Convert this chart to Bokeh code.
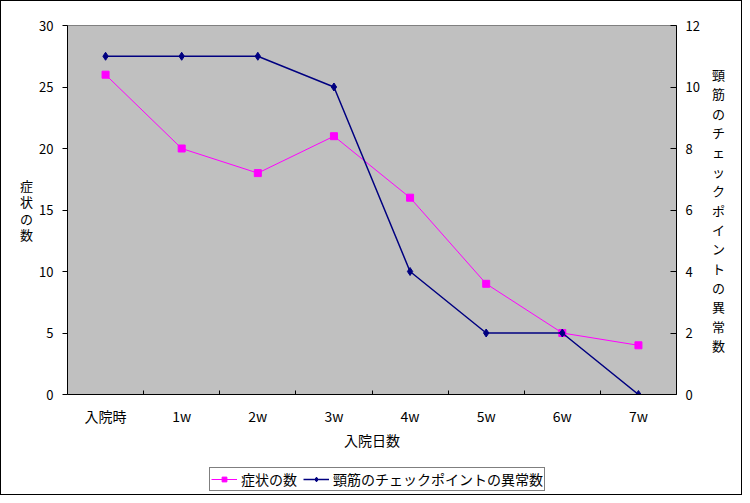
from bokeh.plotting import figure
from bokeh.models import (Range1d, LinearAxis, FixedTicker, Legend, LegendItem)
from bokeh.layouts import column
from bokeh.embed import file_html
from bokeh.resources import INLINE

categories = ["入院時", "1w", "2w", "3w", "4w", "5w", "6w", "7w"]
symptoms = [26, 20, 18, 21, 16, 9, 5, 4]
neck_abn = [11, 11, 11, 10, 4, 2, 2, 0]
left_ticks = [0, 5, 10, 15, 20, 25, 30]
right_ticks = [0, 2, 4, 6, 8, 10, 12]
series_names = ["症状の数", "頸筋のチェックポイントの異常数"]

FONT = "Noto Sans CJK JP"
MAGENTA = "#FF00FF"
NAVY = "#000080"
xs = [i + 0.5 for i in range(len(categories))]

p = figure(width=740, height=455, output_backend="svg", toolbar_location=None,
           x_range=Range1d(0, len(categories)), y_range=Range1d(0, 30),
           min_border_left=66, min_border_right=65, min_border_top=24,
           min_border_bottom=62)
p.extra_y_ranges = {"right": Range1d(0, 12)}
p.background_fill_color = "#C0C0C0"
p.border_fill_color = "white"
p.outline_line_color = "#808080"
p.outline_line_width = 1
p.grid.visible = False

# x axis
xa = p.xaxis[0]
xa.ticker = FixedTicker(ticks=xs, minor_ticks=list(range(1, len(categories))))
xa.major_label_overrides = {x: c for x, c in zip(xs, categories)}
xa.major_tick_line_color = None
xa.minor_tick_in = 4
xa.minor_tick_out = 0
xa.minor_tick_line_color = "black"
xa.axis_line_color = "black"
xa.major_label_standoff = 5
xa.major_label_text_font = FONT
xa.major_label_text_font_size = "14px"
xa.major_label_text_color = "black"
xa.axis_label = "入院日数"
xa.axis_label_text_font = FONT
xa.axis_label_text_font_size = "14px"
xa.axis_label_text_font_style = "normal"
xa.axis_label_standoff = 1
xa.axis_label_text_color = "black"

# left axis
ya = p.yaxis[0]
ya.ticker = FixedTicker(ticks=left_ticks)
ya.minor_tick_line_color = None
ya.major_tick_in = 0
ya.major_tick_out = 5
ya.major_label_standoff = 9
ya.major_label_text_font = FONT
ya.major_label_text_font_size = "13px"
ya.major_label_text_color = "black"
ya.axis_label = "\n".join(series_names[0])
ya.axis_label_orientation = "horizontal"
ya.axis_label_text_font = FONT
ya.axis_label_text_font_size = "13px"
ya.axis_label_text_font_style = "normal"
ya.axis_label_text_line_height = 0.86
ya.axis_label_standoff = 3
ya.axis_label_text_color = "black"

# right axis
ra = LinearAxis(y_range_name="right", ticker=FixedTicker(ticks=right_ticks))
ra.minor_tick_line_color = None
ra.major_tick_in = 6
ra.major_tick_out = 0
ra.major_label_standoff = 9
ra.major_label_text_font = FONT
ra.major_label_text_font_size = "13px"
ra.major_label_text_color = "black"
ra.axis_label = "\n".join(series_names[1])
ra.axis_label_orientation = "horizontal"
ra.axis_label_text_font = FONT
ra.axis_label_text_font_size = "13px"
ra.axis_label_text_font_style = "normal"
ra.axis_label_text_line_height = 1.02
ra.axis_label_standoff = 9
ra.axis_label_text_color = "black"
p.add_layout(ra, "right")

p.line(xs, symptoms, line_color=MAGENTA, line_width=1)
p.scatter(xs, symptoms, marker="square", size=7, fill_color=MAGENTA,
          line_color=MAGENTA)
p.line(xs, neck_abn, y_range_name="right", line_color=NAVY, line_width=1.5)
p.scatter(xs, neck_abn, y_range_name="right", marker="diamond", size=8,
          fill_color=NAVY, line_color=NAVY)

# legend strip
lp = figure(width=740, height=38, output_backend="svg", toolbar_location=None,
            x_range=Range1d(0, 1), y_range=Range1d(0, 1),
            x_axis_type=None, y_axis_type=None,
            min_border_left=0, min_border_right=0, min_border_top=0,
            min_border_bottom=0)
lp.outline_line_color = None
lp.background_fill_color = "white"
lp.border_fill_color = "white"
lp.grid.visible = False
off = [5, 6]
ll1 = lp.line(off, off, line_color=MAGENTA, line_width=1)
ls1 = lp.scatter(off, off, marker="square", size=6, fill_color=MAGENTA,
                 line_color=MAGENTA)
ll2 = lp.line(off, off, line_color=NAVY, line_width=1.5)
ls2 = lp.scatter(off, off, marker="diamond", size=7, fill_color=NAVY,
                 line_color=NAVY)

legend = Legend(items=[
    LegendItem(label=series_names[0], renderers=[ll1, ls1]),
    LegendItem(label=series_names[1], renderers=[ll2, ls2]),
], orientation="horizontal", location=(142, 3))
legend.label_text_font = FONT
legend.label_text_font_size = "14px"
legend.label_text_color = "black"
legend.border_line_color = "black"
legend.border_line_width = 1
legend.background_fill_color = "white"
legend.background_fill_alpha = 1
legend.glyph_width = 26
legend.glyph_height = 12
legend.label_standoff = 4
legend.spacing = 6
legend.padding = 1
legend.margin = 0
legend.label_height = 14
lp.add_layout(legend, "center")

layout = column(p, lp, spacing=0)
layout.styles = {"border": "1px solid black"}

open("out.html", "w").write(file_html(layout, INLINE))
